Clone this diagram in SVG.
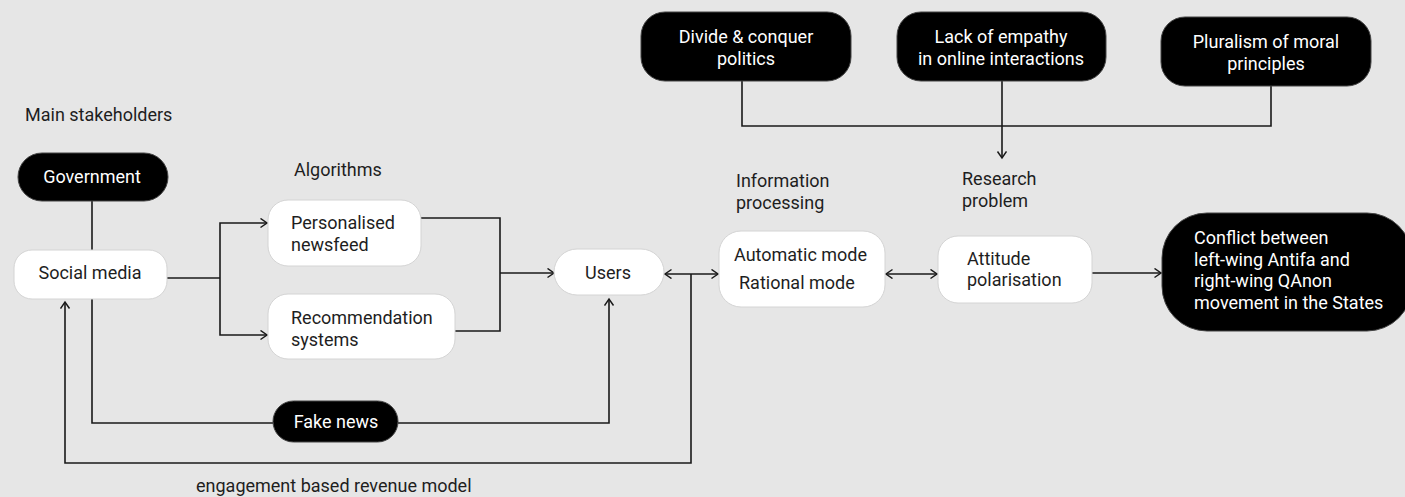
<svg xmlns="http://www.w3.org/2000/svg" width="1405" height="497" viewBox="0 0 1405 497">
  <defs>
    <marker id="arrow" markerUnits="userSpaceOnUse" markerWidth="10" markerHeight="12" refX="7" refY="5" orient="auto-start-reverse">
      <path d="M0.5,0.5 L7,5 L0.5,9.5" fill="none" stroke="#1a1a1a" stroke-width="1.5"/>
    </marker>
  </defs>
  <style>
    text { font-family: Roboto, "Liberation Sans", sans-serif; font-size: 18px; }
    .dark rect { fill: #000; stroke: #444; stroke-width: 1; }
    .dark text { fill: #fff; }
    .light rect { fill: #fff; stroke: #d4d4d4; stroke-width: 1; }
    .light text { fill: #1e1e1e; }
    .label { fill: #1e1e1e; }
    .mid { text-anchor: middle; }
    #connectors path { fill: none; stroke: #1a1a1a; stroke-width: 1.6; }
  </style>

  <rect width="1405" height="497" fill="#e6e6e6"/>

  <!-- free labels -->
  <text class="label" x="25" y="121">Main stakeholders</text>
  <text class="label" x="294" y="176">Algorithms</text>
  <text class="label" x="736" y="187">Information</text>
  <text class="label" x="736" y="209">processing</text>
  <text class="label" x="962" y="185">Research</text>
  <text class="label" x="962" y="207">problem</text>
  <text class="label" x="196" y="492">engagement based revenue model</text>

  <g id="connectors">
    <path d="M92,201 V250"/>
    <path d="M167,278 H220"/>
    <path d="M220,278 V223 H267" marker-end="url(#arrow)"/>
    <path d="M220,278 V335 H267" marker-end="url(#arrow)"/>
    <path d="M421,218 H500 V331 H455"/>
    <path d="M500,273 H554" marker-end="url(#arrow)"/>
    <path d="M92,299 V423 H273"/>
    <path d="M398,423 H609 V299" marker-end="url(#arrow)"/>
    <path d="M691,274 V463 H65 V302" marker-end="url(#arrow)"/>
    <path d="M665,274 H718" marker-start="url(#arrow)" marker-end="url(#arrow)"/>
    <path d="M886,274 H937" marker-start="url(#arrow)" marker-end="url(#arrow)"/>
    <path d="M1092,273 H1161" marker-end="url(#arrow)"/>
    <path d="M742,81 V126 H1271 V86"/>
    <path d="M1002,81 V158" marker-end="url(#arrow)"/>
  </g>

  <g id="government" class="dark">
    <rect x="18" y="153" width="150" height="48" rx="24"/>
    <text class="mid" x="92" y="183">Government</text>
  </g>

  <g id="social-media" class="light">
    <rect x="14" y="250" width="153" height="49" rx="18"/>
    <text class="mid" x="90" y="279">Social media</text>
  </g>

  <g id="personalised-newsfeed" class="light">
    <rect x="268" y="200" width="153" height="66" rx="20"/>
    <text x="291" y="229">Personalised</text>
    <text x="291" y="251">newsfeed</text>
  </g>

  <g id="recommendation-systems" class="light">
    <rect x="268" y="294" width="187" height="65" rx="20"/>
    <text x="291" y="324">Recommendation</text>
    <text x="291" y="346">systems</text>
  </g>

  <g id="users" class="light">
    <rect x="554" y="249" width="110" height="46" rx="23"/>
    <text class="mid" x="608" y="279">Users</text>
  </g>

  <g id="fake-news" class="dark">
    <rect x="273" y="401" width="125" height="41" rx="20.5"/>
    <text class="mid" x="336" y="428">Fake news</text>
  </g>

  <g id="information-modes" class="light">
    <rect x="719" y="231" width="166" height="76" rx="22"/>
    <text x="734" y="261">Automatic mode</text>
    <text x="739" y="289">Rational mode</text>
  </g>

  <g id="attitude-polarisation" class="light">
    <rect x="938" y="236" width="154" height="67" rx="20"/>
    <text x="967" y="265">Attitude</text>
    <text x="967" y="286">polarisation</text>
  </g>

  <g id="conflict" class="dark">
    <rect x="1162" y="213" width="250" height="118" rx="45"/>
    <text x="1194" y="244">Conflict between</text>
    <text x="1194" y="266">left-wing Antifa and</text>
    <text x="1194" y="287">right-wing QAnon</text>
    <text x="1194" y="309">movement in the States</text>
  </g>

  <g id="divide-conquer" class="dark">
    <rect x="641" y="12" width="210" height="69" rx="24"/>
    <text class="mid" x="746" y="43">Divide &amp; conquer</text>
    <text class="mid" x="746" y="65">politics</text>
  </g>

  <g id="lack-of-empathy" class="dark">
    <rect x="897" y="12" width="209" height="69" rx="24"/>
    <text class="mid" x="1001" y="43">Lack of empathy</text>
    <text class="mid" x="1001" y="65">in online interactions</text>
  </g>

  <g id="moral-pluralism" class="dark">
    <rect x="1161" y="17" width="210" height="69" rx="24"/>
    <text class="mid" x="1266" y="48">Pluralism of moral</text>
    <text class="mid" x="1266" y="70">principles</text>
  </g>
</svg>
